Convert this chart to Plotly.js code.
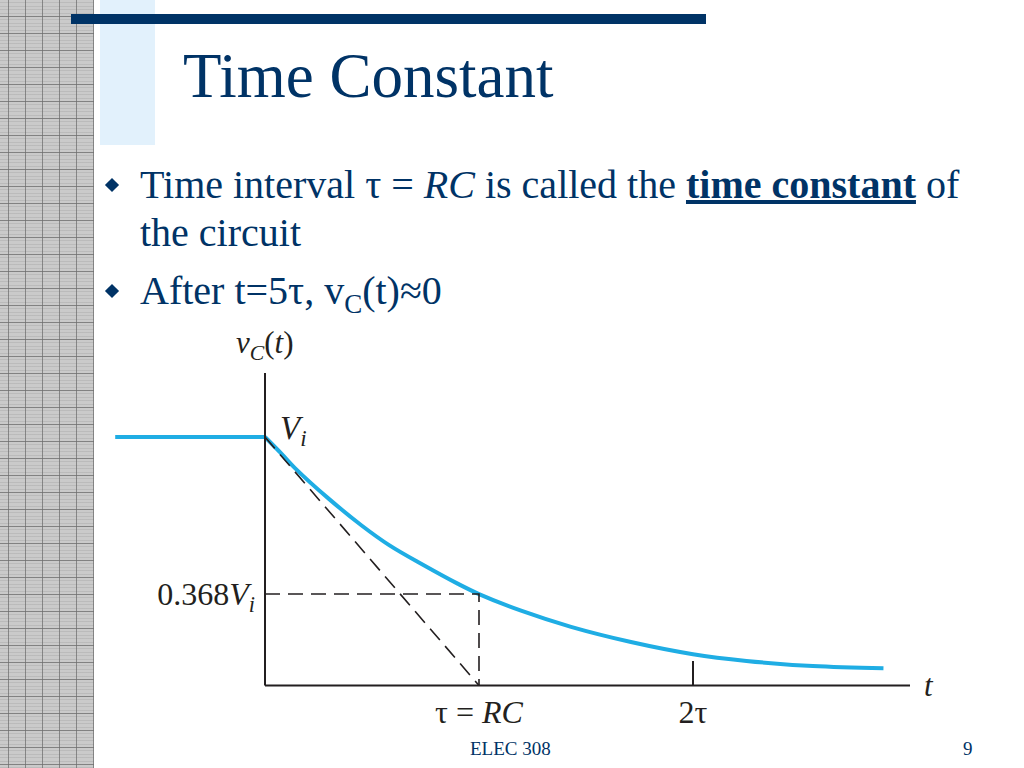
<!DOCTYPE html>
<html>
<head>
<meta charset="utf-8">
<script src="https://cdn.plot.ly/plotly-3.0.1.min.js"></script>
<style>
  html, body { margin:0; padding:0; background:#fff; }
  #slide { position:relative; width:1024px; height:768px; overflow:hidden; background:#fff; font-family:"Liberation Serif","Times New Roman",serif; color:#003366; }
  #grid { position:absolute; left:0; top:0; width:94px; height:768px; background-color:#cacaca;
    background-image:
      linear-gradient(to right, rgba(110,110,110,0.75) 1px, transparent 1px),
      linear-gradient(to bottom, rgba(110,110,110,0.75) 1px, transparent 1px),
      repeating-linear-gradient(to bottom, rgba(160,160,160,0.35) 0px, rgba(160,160,160,0.35) 1px, transparent 1px, transparent 3.4px);
    background-size: 17px 17px, 17px 17px, 100% 17px;
    background-position: 8px 0, 0 16px, 0 16px; }
  #lightblue { position:absolute; left:100px; top:0; width:55px; height:145px; background:#e2f1fc; }
  #bar { position:absolute; left:71px; top:14px; width:635px; height:10px; background:#003366; }
  #title { position:absolute; left:183px; top:40px; font-size:63px; line-height:72px; white-space:nowrap; }
  .bullet { position:absolute; left:140px; font-size:40px; line-height:48px; white-space:nowrap; }
  .diamond { position:absolute; width:10px; height:10px; background:#003366; transform:rotate(45deg); }
  #footer { position:absolute; left:470px; top:738px; font-size:19px; }
  #page { position:absolute; left:963px; top:738px; font-size:19px; }
  #chart { position:absolute; left:0; top:0; width:1024px; height:768px; }
</style>
</head>
<body>
<div id="slide">
  <div id="grid"></div>
  <div id="lightblue"></div>
  <div id="bar"></div>
  <div id="title">Time Constant</div>
  <div class="diamond" style="left:107px; top:180px;"></div>
  <div class="bullet" style="top:161px;">Time interval τ = <i>RC</i> is called the <b><u>time constant</u></b> of<br>the circuit</div>
  <div class="diamond" style="left:107px; top:286px;"></div>
  <div class="bullet" style="top:267px;">After t=5τ, v<sub style="font-size:27px;">C</sub>(t)≈0</div>
  <div id="footer">ELEC 308</div>
  <div id="page">9</div>
  <div id="chart"></div>
</div>
<script>
// ---- data (t in units of tau, v in units of Vi) ----
const holdT = [-0.70, 0];
const holdV = [1, 1];
const decayT = [0, 0.08, 0.14, 0.30, 0.45, 0.58, 0.74, 0.90, 1.0, 1.20, 1.43, 1.71, 2.0, 2.25, 2.56, 2.89];
const decayV = [1, 0.93, 0.875, 0.75, 0.645, 0.565, 0.485, 0.41, 0.368, 0.30, 0.236, 0.175, 0.126, 0.099, 0.078, 0.069];
const tangentT = [0, 1];
const tangentV = [1, 0];
const levelT = [0, 1, 1];
const levelV = [0.368, 0.368, 0];
const xTickVals = [1, 2];
const xTickText = ['τ = <i>RC</i>', '2τ'];
const yTickVals = [0.368];
const yTickText = ['0.368<i>V</i><sub><i>i</i></sub>'];
const xAxisEnd = 3.014;
const yAxisTop = 1.2575;
const tickMarkT = 2;
const tickMarkLen = 0.099;

const ink = '#231f20';
const blue = '#1fade4';
const serif = 'Liberation Serif, Times New Roman, serif';

const traces = [
  { x: holdT, y: holdV, mode: 'lines', line: { color: blue, width: 4 }, hoverinfo: 'skip' },
  { x: decayT, y: decayV, mode: 'lines', line: { color: blue, width: 4, shape: 'spline', smoothing: 1 }, hoverinfo: 'skip' },
  { x: tangentT, y: tangentV, mode: 'lines', line: { color: ink, width: 1.6, dash: '15px,8px' }, hoverinfo: 'skip' },
  { x: levelT, y: levelV, mode: 'lines', line: { color: ink, width: 1.6, dash: '15px,8px' }, hoverinfo: 'skip' }
];

const layout = {
  width: 1024, height: 768,
  margin: { l: 0, r: 0, t: 0, b: 0 },
  paper_bgcolor: 'rgba(0,0,0,0)',
  plot_bgcolor: 'rgba(0,0,0,0)',
  showlegend: false,
  font: { family: serif, color: ink, size: 32 },
  xaxis: {
    domain: [100 / 1024, 960 / 1024],
    range: [(100 - 265) / 214, (960 - 265) / 214],
    anchor: 'free', position: (768 - 685.5) / 768,
    showgrid: false, zeroline: false, showline: false,
    ticks: '', tickvals: xTickVals, ticktext: xTickText,
    ticklabelstandoff: 4,
    tickfont: { family: serif, color: ink, size: 32 },
    fixedrange: true
  },
  yaxis: {
    domain: [(768 - 700) / 768, (768 - 360) / 768],
    range: [(685.5 - 700) / 248.5, (685.5 - 360) / 248.5],
    anchor: 'free', position: 265 / 1024,
    showgrid: false, zeroline: false, showline: false,
    ticks: '', tickvals: yTickVals, ticktext: yTickText,
    ticklabelstandoff: 10,
    tickfont: { family: serif, color: ink, size: 32 },
    fixedrange: true
  },
  shapes: [
    { type: 'line', xref: 'x', yref: 'y', x0: 0, x1: 0, y0: 0, y1: yAxisTop, line: { color: ink, width: 2 } },
    { type: 'line', xref: 'x', yref: 'y', x0: 0, x1: xAxisEnd, y0: 0, y1: 0, line: { color: ink, width: 2 } },
    { type: 'line', xref: 'x', yref: 'y', x0: tickMarkT, x1: tickMarkT, y0: 0, y1: tickMarkLen, line: { color: ink, width: 2 } }
  ],
  annotations: [
    { xref: 'x', yref: 'y', x: 0.06, y: 1.025, xanchor: 'left', yanchor: 'middle', showarrow: false,
      text: '<i>V</i><sub><i>i</i></sub>', font: { family: serif, color: ink, size: 33 } },
    { xref: 'paper', yref: 'paper', x: 265 / 1024, y: (768 - 345) / 768, xanchor: 'center', yanchor: 'middle', showarrow: false,
      text: '<i>v</i><sub><i>C</i></sub>(<i>t</i>)', font: { family: serif, color: ink, size: 31 } },
    { xref: 'x', yref: 'y', x: 3.105, y: 0, xanchor: 'center', yanchor: 'middle', showarrow: false,
      text: '<i>t</i>', font: { family: serif, color: ink, size: 31 } }
  ]
};

Plotly.newPlot('chart', traces, layout, { displayModeBar: false, staticPlot: true });
</script>
</body>
</html>
